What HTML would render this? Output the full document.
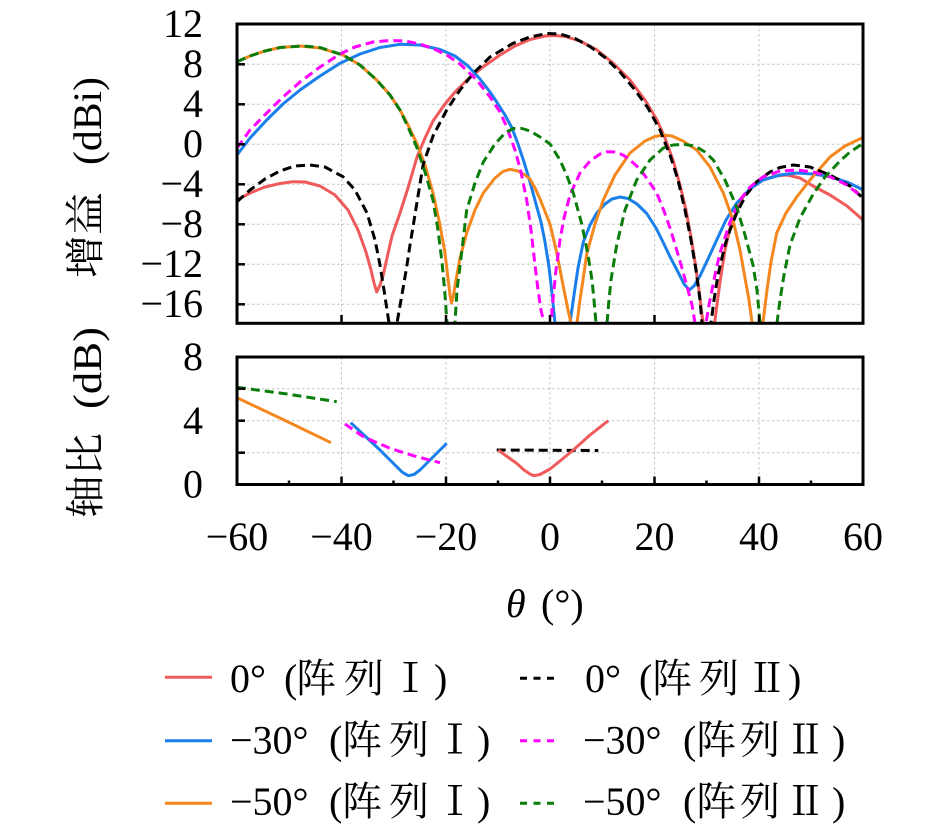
<!DOCTYPE html>
<html>
<head>
<meta charset="utf-8">
<style>
html,body{margin:0;padding:0;background:#fff;}
svg{display:block;}
.tk{font-family:"Liberation Serif","Noto Serif CJK SC",serif;font-size:40px;fill:#000;}
.cj{font-family:"Liberation Serif","Noto Serif CJK SC",serif;font-size:40px;fill:#000;}
.grid{stroke:#c4c4c4;stroke-width:1;stroke-dasharray:2.5 2.5;fill:none;}
.s{fill:none;stroke-width:3;stroke-linejoin:round;stroke-linecap:butt;}
.d{stroke-dasharray:9 5;}
</style>
</head>
<body>
<svg width="945" height="828" viewBox="0 0 945 828" xmlns="http://www.w3.org/2000/svg">
<defs>
<clipPath id="ct"><rect x="237" y="24" width="626" height="299.5"/></clipPath>
<clipPath id="cb"><rect x="237" y="357" width="626" height="127.5"/></clipPath>
</defs>

<!-- TOP PLOT GRID -->
<g class="grid">
<line x1="237" y1="64.3" x2="863" y2="64.3"/>
<line x1="237" y1="104.3" x2="863" y2="104.3"/>
<line x1="237" y1="144.3" x2="863" y2="144.3"/>
<line x1="237" y1="184.3" x2="863" y2="184.3"/>
<line x1="237" y1="224.3" x2="863" y2="224.3"/>
<line x1="237" y1="264.3" x2="863" y2="264.3"/>
<line x1="237" y1="304.3" x2="863" y2="304.3"/>
<line x1="341.5" y1="24" x2="341.5" y2="323"/>
<line x1="446" y1="24" x2="446" y2="323"/>
<line x1="550" y1="24" x2="550" y2="323"/>
<line x1="654.5" y1="24" x2="654.5" y2="323"/>
<line x1="759" y1="24" x2="759" y2="323"/>
</g>

<!-- BOTTOM PLOT GRID -->
<g class="grid">
<line x1="237" y1="388.7" x2="863" y2="388.7"/>
<line x1="237" y1="420.7" x2="863" y2="420.7"/>
<line x1="237" y1="452.7" x2="863" y2="452.7"/>
<line x1="341.5" y1="357" x2="341.5" y2="484.5"/>
<line x1="446" y1="357" x2="446" y2="484.5"/>
<line x1="550" y1="357" x2="550" y2="484.5"/>
<line x1="654.5" y1="357" x2="654.5" y2="484.5"/>
<line x1="759" y1="357" x2="759" y2="484.5"/>
</g>

<!-- TOP SERIES -->
<g clip-path="url(#ct)">
<polyline class="s" stroke="#F05A5A" points="237,200 250,193 265,187 280,183.5 293,181.7 305,182 320,186 335,195 348,210 358,230 366,252 371,270 374,283 376.7,292 380,285 383,276 387,258 392,236 400,213 408,188 417,157 425,138 433,121 445,104 455,92 467,80 483,67 500,55 515,46 530,39.5 545,36 555,35.5 565,36.5 580,41 597,50 613,63 630,80 645,100 657,120 665,138 673,160 680,185 686,210 691,237 695,262 699,290 702,315 705,335 709,345 713,335 716,312 720,282 725,250 730,228 737,210 743,197 752,187 763,180 775,176 787,175 800,178 813,186 830,195 847,206 863,220"/>
<polyline class="s" stroke="#1A7FEA" points="237,155 250,138 266.7,120 283,104 300,90 320,76 340,63.3 360,54 380,47.5 400,44.3 420,45 440,49.5 455,56 468,66 480,79 490,92 498,104 505,115 512,128 518,144 524,162 530,182 536,204 541,222 545,242 549,267 552,293 555,323 558,345 566,345 570,323 574,295 578,268 583.3,242 590,225 596.7,213 605,204 612,199 620,197 628,198.5 637,204 646.7,213.5 656,228 663,242 670,256.7 678,272 684,284 689.3,290 694,286 700,276 708,259 716.7,240 726,220 736.7,203 750,189 763,180 780,175 796.7,173 813,174 830,176.7 847,182 863.3,190"/>
<polyline class="s" stroke="#F5871F" points="237,61.7 250,56 265,51 280,47.5 300,46 320,48 343,55 360,65 376.7,80 390,95 400,110 408,125 416.7,143.3 425,165 433,193 440,225 445,253 448,278 450,295 451.5,303 453,298 456,280 460,258 466.7,233 475,210 483.3,193 495,178 503,171.5 510,169.3 518,171 525,175 530,179 535,188 540,199 550,224 557,254 563,285 568,310 571,323 574,335 577,323 580,300 583,280 586.7,254 595,224 603.3,200 615,175 630,153 645,141 655,136.5 663.3,135 672,136 683,141 696.7,150 710,167 723.3,193 733,220 740,250 745,278 749,300 751.7,320 757,345 763.3,320 767,290 771,262 776.7,233 786,213 796.7,197 810,180 830,157 845,146 863.3,137.3"/>
<polyline class="s d" stroke="#000000" points="237,201.7 250,190 265,179 280,171 295,166 310,165 325,167 343,176.7 355,190 367,213 375,240 380,265 384,290 387,310 389,323 392,345 397,323 401,300 404,283 406.7,266.7 410,245 413,227 418,196 423.3,164 433,136 446.7,110 460,90 473.3,73.3 490,57 513,43.3 530,37 547,33.5 560,34 575,38.5 590,46.5 605,57.5 620,72 635,90 648,108 660,130 670,155 678,180 685,210 691,240 696,270 700,300 702,323 706,345 711,323 714,300 718,275 725,245 730,230 736.7,213 746,195 756.7,181.7 770,172 780,167.5 793.3,165 810,167 830,175 850,186 863,198.3"/>
<polyline class="s d" stroke="#FF00FF" points="237,148 250,130 266.7,113 283,97 300,82 320,67 340,54 355,47 373,42 390,40.5 405,41 420,44 435,49.5 446.7,55 460,64 476.7,80 490,97 500,112 506.7,127 515,150 521,172 526.7,200 531,230 535,265 538,290 541,310 544,323 548,340 551,323 553,300 556,270 560,240 564,218 570,195 580,173 590,161 600,154 607,151.7 615,152 623,155 630,160 640,169 648,180 656.7,193 664,211 670,228 676.7,250 682,268 688,290 692,305 695,323 700,345 706,323 709,305 713,285 716,270 720,253 730,222 740,200 750,187 763.3,176.7 780,171 796.7,170 813,172 830,176.7 847,185 863.3,198"/>
<polyline class="s d" stroke="#0A7D0A" points="237,61.7 250,56 265,51 280,47.5 303,46 320,47.5 343,55 360,65 376.7,80 390,95 400,110 408,127 416.7,147 425,172 433,200 438,230 442,262 445,295 447,323 450,345 455,323 457,290 461,258 466.7,210 475,183 483.3,162 495,144 505,133 513.3,128.5 522,128.5 530,131 540,137 550,144 560,160 567,176 573.3,193 582,225 588,255 592,280 594,300 596,323 601,345 607,323 609,300 611,280 616.7,245 625,210 636.7,180 650,160 663.3,148 673,145 683.3,144.3 695,146 705,152 713.3,160 725,180 736.7,207 745,235 753,265 757,290 760,323 768,345 777,323 780,300 784,275 790,245 800,218 813.3,194 825,177 840,161 850,152 863.3,143.3"/>
</g>

<!-- BOTTOM SERIES -->
<g clip-path="url(#cb)">
<polyline class="s" stroke="#F5871F" points="237,397.7 284,420 331,442.7"/>
<polyline class="s d" stroke="#0A7D0A" points="237,387.3 287,394 336.7,401.7"/>
<polyline class="s" stroke="#1A7FEA" points="350.7,422.7 365,436 380,450 390,460 396.7,466.7 402,472 408.3,475.7 414,474.5 420,470 430,460 440,450 446.7,443.3"/>
<polyline class="s d" stroke="#FF00FF" points="345,424 363.3,436.7 390,448.3 416.7,456.7 440,462.7"/>
<polyline class="s d" stroke="#000000" points="496.7,450 598.3,450.5"/>
<polyline class="s" stroke="#F05A5A" points="498.3,450 505,455 512,460 516.7,463.3 524,470 530,474 534,475.7 540,474.5 550,469 560,461 573.3,450 590,435 608.3,420.7"/>
</g>

<!-- FRAMES -->
<rect x="237" y="24" width="626" height="299.3" fill="none" stroke="#000" stroke-width="3"/>
<rect x="237" y="357" width="626" height="127.5" fill="none" stroke="#000" stroke-width="3"/>

<!-- TICKS -->
<g stroke="#000" stroke-width="2.5">
<line x1="237" y1="64.3" x2="245" y2="64.3"/>
<line x1="237" y1="104.3" x2="245" y2="104.3"/>
<line x1="237" y1="144.3" x2="245" y2="144.3"/>
<line x1="237" y1="184.3" x2="245" y2="184.3"/>
<line x1="237" y1="224.3" x2="245" y2="224.3"/>
<line x1="237" y1="264.3" x2="245" y2="264.3"/>
<line x1="237" y1="304.3" x2="245" y2="304.3"/>
<line x1="341.5" y1="323" x2="341.5" y2="315"/>
<line x1="446" y1="323" x2="446" y2="315"/>
<line x1="550" y1="323" x2="550" y2="315"/>
<line x1="654.5" y1="323" x2="654.5" y2="315"/>
<line x1="759" y1="323" x2="759" y2="315"/>

<line x1="237" y1="388.7" x2="245" y2="388.7"/>
<line x1="237" y1="420.7" x2="245" y2="420.7"/>
<line x1="237" y1="452.7" x2="245" y2="452.7"/>
<line x1="341.5" y1="484.5" x2="341.5" y2="476.5"/>
<line x1="446" y1="484.5" x2="446" y2="476.5"/>
<line x1="550" y1="484.5" x2="550" y2="476.5"/>
<line x1="654.5" y1="484.5" x2="654.5" y2="476.5"/>
<line x1="759" y1="484.5" x2="759" y2="476.5"/>
<line x1="289" y1="484.5" x2="289" y2="480.5"/>
<line x1="393.5" y1="484.5" x2="393.5" y2="480.5"/>
<line x1="498" y1="484.5" x2="498" y2="480.5"/>
<line x1="602" y1="484.5" x2="602" y2="480.5"/>
<line x1="706.5" y1="484.5" x2="706.5" y2="480.5"/>
<line x1="811" y1="484.5" x2="811" y2="480.5"/>
</g>

<!-- Y TICK LABELS TOP -->
<g class="tk" text-anchor="end">
<text x="203" y="37">12</text>
<text x="203" y="77">8</text>
<text x="203" y="117">4</text>
<text x="203" y="157">0</text>
<text x="203" y="197">−4</text>
<text x="203" y="237">−8</text>
<text x="203" y="277">−12</text>
<text x="203" y="317">−16</text>
</g>
<!-- Y TICK LABELS BOTTOM -->
<g class="tk" text-anchor="end">
<text x="203" y="370">8</text>
<text x="203" y="434">4</text>
<text x="203" y="497.5">0</text>
</g>
<!-- X TICK LABELS -->
<g class="tk" text-anchor="middle">
<text x="237" y="550">−60</text>
<text x="341.5" y="550">−40</text>
<text x="446" y="550">−20</text>
<text x="550" y="550">0</text>
<text x="654.5" y="550">20</text>
<text x="759" y="550">40</text>
<text x="863" y="550">60</text>
</g>

<!-- AXIS LABELS -->
<text class="cj" transform="translate(99,278) rotate(-90)" font-size="42" textLength="86" lengthAdjust="spacingAndGlyphs">增益</text>
<text class="tk" transform="translate(101,165) rotate(-90)" font-size="42" textLength="88" lengthAdjust="spacingAndGlyphs">(dBi)</text>
<text class="cj" transform="translate(99,518) rotate(-90)" font-size="42" textLength="85" lengthAdjust="spacingAndGlyphs">轴比</text>
<text class="tk" transform="translate(101,409) rotate(-90)" font-size="42" textLength="82" lengthAdjust="spacingAndGlyphs">(dB)</text>

<text class="tk" x="506" y="617"><tspan font-style="italic">θ</tspan><tspan x="541">(°)</tspan></text>

<!-- LEGEND LINES -->
<g stroke-width="3">
<line x1="165" y1="677.3" x2="212" y2="677.3" stroke="#F05A5A"/>
<line x1="165" y1="740.7" x2="212" y2="740.7" stroke="#1A7FEA"/>
<line x1="165" y1="803.3" x2="212" y2="803.3" stroke="#F5871F"/>
<line x1="520" y1="678.3" x2="558" y2="678.3" stroke="#000" stroke-dasharray="7 6.5"/>
<line x1="520" y1="740.7" x2="558" y2="740.7" stroke="#FF00FF" stroke-dasharray="7 6.5"/>
<line x1="520" y1="803.3" x2="558" y2="803.3" stroke="#0A7D0A" stroke-dasharray="7 6.5"/>
</g>

<!-- LEGEND TEXT -->
<g class="tk">
<text y="692"><tspan x="230">0°</tspan><tspan x="284">(</tspan><tspan x="296">阵</tspan><tspan x="344">列</tspan><tspan x="410.5" text-anchor="middle">Ⅰ</tspan><tspan x="434">)</tspan></text>
<text y="753.5"><tspan x="230">−30°</tspan><tspan x="329">(</tspan><tspan x="342">阵</tspan><tspan x="389">列</tspan><tspan x="455" text-anchor="middle">Ⅰ</tspan><tspan x="477">)</tspan></text>
<text y="815"><tspan x="230">−50°</tspan><tspan x="329">(</tspan><tspan x="342">阵</tspan><tspan x="389">列</tspan><tspan x="455" text-anchor="middle">Ⅰ</tspan><tspan x="477">)</tspan></text>

<text y="692"><tspan x="585">0°</tspan><tspan x="639">(</tspan><tspan x="652">阵</tspan><tspan x="699">列</tspan><tspan x="767" text-anchor="middle">Ⅱ</tspan><tspan x="788">)</tspan></text>
<text y="753.5"><tspan x="583">−30°</tspan><tspan x="683">(</tspan><tspan x="696">阵</tspan><tspan x="740">列</tspan><tspan x="805.5" text-anchor="middle">Ⅱ</tspan><tspan x="832">)</tspan></text>
<text y="815"><tspan x="583">−50°</tspan><tspan x="683">(</tspan><tspan x="696">阵</tspan><tspan x="740">列</tspan><tspan x="805.5" text-anchor="middle">Ⅱ</tspan><tspan x="832">)</tspan></text>
</g>
</svg>
</body>
</html>
